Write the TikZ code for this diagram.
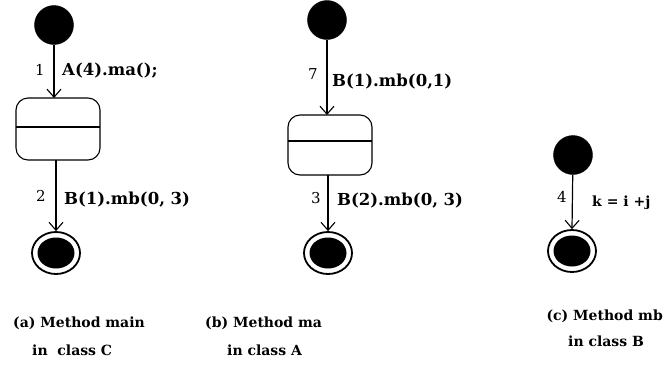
\documentclass[tikz,border=0pt]{standalone}
\usepackage{fontspec}
\setmainfont{DejaVu Serif}
\usetikzlibrary{arrows.meta,shapes.geometric}
\tikzset{
  x=1pt, y=-1pt,
  initstate/.style={circle, fill=black, draw=black, minimum size=39pt, inner sep=0pt},
  finalouter/.style={ellipse, draw=black, line width=1.8pt, fill=white, minimum width=48pt, minimum height=42pt, inner sep=0pt},
  finalinner/.style={ellipse, fill=black, minimum width=37pt, minimum height=31pt, inner sep=0pt},
  actbox/.style={draw=black, line width=1.1pt, rounded corners=12pt},
  trans/.style={draw=black, line width=1.2pt, -{Straight Barb[length=8pt,width=14pt,line width=1.1pt]}},
  tlabel/.style={anchor=west, inner sep=0pt, font=\bfseries\fontsize{16.5}{19}\selectfont},
  tnum/.style={inner sep=0pt, font=\fontsize{15}{17}\selectfont},
  caption/.style={anchor=west, inner sep=0pt, font=\bfseries\fontsize{14}{17}\selectfont}
}
\begin{document}
\begin{tikzpicture}
\useasboundingbox (0,0) rectangle (665,368);

% ---- (a) method main ----
\node[initstate] (ia) at (54,25) {};
\draw[actbox] (16,98) rectangle (100,160);
\coordinate (sat) at (54,98);
\coordinate (sab) at (56,160);
\draw[line width=1.1pt] (16,127) -- (100,127);
\node[finalouter] (fa) at (56,253) {};
\node[finalinner] at (fa) {};
\draw[trans] (ia) -- (sat);
\draw[trans] (sab) -- (fa.north);
\node[tnum] at (40,70) {1};
\node[tlabel] at (62,71) {A(4).ma();};
\node[tnum] at (41,196) {2};
\node[tlabel] at (64,200) {B(1).mb(0, 3)};

% ---- (b) method ma ----
\node[initstate] (ib) at (327,20) {};
\draw[actbox] (288,115) rectangle (372,175);
\coordinate (sbt) at (327,115);
\coordinate (sbb) at (328,175);
\draw[line width=1.1pt] (288,141) -- (372,141);
\node[finalouter] (fb) at (328,253) {};
\node[finalinner] at (fb) {};
\draw[trans] (ib) -- (sbt);
\draw[trans] (sbb) -- (fb.north);
\node[tnum] at (313,74) {7};
\node[tlabel] at (332,82) {B(1).mb(0,1)};
\node[tnum] at (316,198) {3};
\node[tlabel] at (337,201) {B(2).mb(0, 3)};

% ---- (c) method mb ----
\node[initstate] (ic) at (573,155) {};
\node[finalouter] (fc) at (572,251) {};
\node[finalinner] at (fc) {};
\draw[trans] (ic) -- (fc.north);
\node[tnum] at (562,197) {4};
\node[tlabel, font=\bfseries\fontsize{14}{17}\selectfont] at (592,203) {k = i +j};

% ---- captions ----
\node[caption] (capa1) at (13,323) {(a) Method main};
\node[caption] (capa2) at (32,350) {in\ \ class C};
\node[caption] (capb1) at (205,323) {(b) Method ma};
\node[caption] (capb2) at (227,350) {in class A};
\node[caption, anchor=east] (capc1) at (663,316) {(c) Method mb};
\node[caption] (capc2) at (568,341) {in class B};
\end{tikzpicture}
\end{document}
